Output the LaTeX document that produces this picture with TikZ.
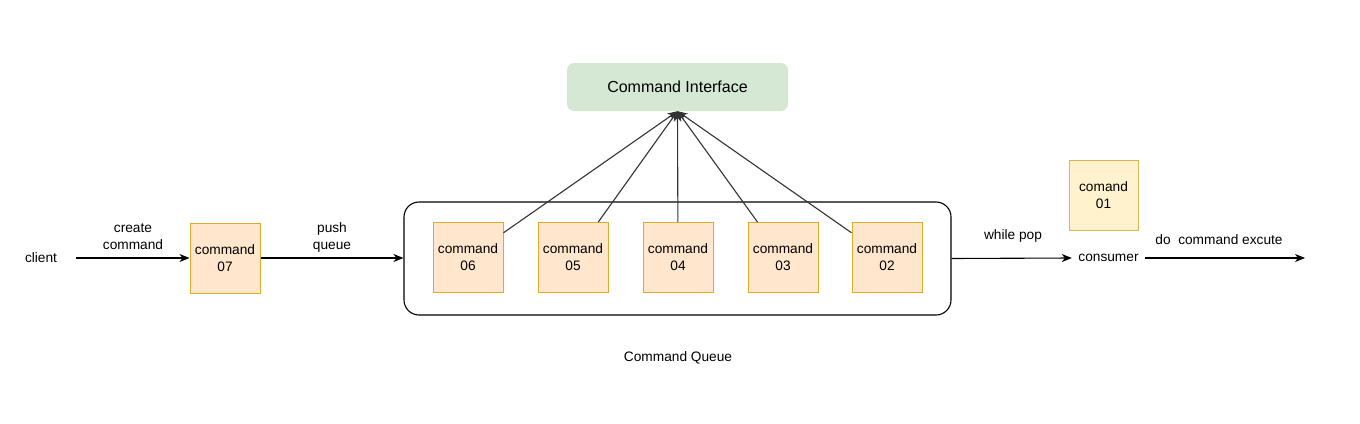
\documentclass[tikz,border=0pt]{standalone}
\usepackage{fontspec}
\setmainfont{Liberation Sans}
\usetikzlibrary{arrows.meta}
\definecolor{ofill}{HTML}{FFE6CC}
\definecolor{ostroke}{HTML}{D79B00}
\definecolor{yfill}{HTML}{FFF2CC}
\definecolor{ystroke}{HTML}{D6B656}
\definecolor{gfill}{HTML}{D5E8D4}
\definecolor{gline}{HTML}{333333}
\tikzset{
  base/.style={font=\fontsize{13.7}{17}\selectfont, align=center},
  cmdbox/.style={base, draw=ostroke!80!ofill, fill=ofill, line width=1pt, minimum width=70, minimum height=70, inner sep=0pt},
  cmdyellow/.style={base, draw=ystroke, fill=yfill, line width=1pt, minimum width=69, minimum height=70, inner sep=0pt},
  lbl/.style={base, inner sep=0pt},
  flow/.style={draw=black, line width=1.1pt, -{Stealth[length=10pt,width=8pt,inset=3pt]}},
  iface/.style={draw=gline, line width=1.1pt, -{Stealth[length=10pt,width=8pt,inset=3pt]}}
}
\begin{document}
\begin{tikzpicture}[x=1pt,y=-1pt]
\useasboundingbox (0,0) rectangle (1360,423);
% command interface
\node[base, font=\fontsize{16}{19}\selectfont, fill=gfill, rounded corners=7, minimum width=221, minimum height=48, inner sep=0pt] (ci) at (677.5,87) {Command Interface};
% queue
\node[draw=black, line width=1.1pt, rounded corners=15, minimum width=547, minimum height=113, inner sep=0pt] (queue) at (677.5,258.5) {};
\node[lbl] (qlabel) at (678,358) {Command Queue};
% command boxes
\node[cmdbox] (c07) at (225,258) {command\\07};
\node[cmdbox] (c06) at (468,257.5) {command\\06};
\node[cmdbox] (c05) at (573,257.5) {command\\05};
\node[cmdbox] (c04) at (678,257.5) {command\\04};
\node[cmdbox] (c03) at (783,257.5) {command\\03};
\node[cmdbox] (c02) at (887,257.5) {command\\02};
\node[cmdyellow] (c01) at (1103.5,195) {comand\\01};
% client / consumer
\node[base, minimum width=70, inner sep=0pt] (client) at (41,258) {client};
\node[base, minimum width=73, inner sep=0pt] (consumer) at (1108.5,258) {consumer};
\coordinate (endpt) at (1305,258);
% horizontal flow
\draw[flow] (client) -- (c07);
\draw[flow] (c07) -- (c07 -| queue.west);
\draw[flow] (queue.east) -- (consumer.west);
\draw[flow] (consumer) -- (endpt);
% labels
\node[lbl] (lcreate) at (133,237) {create\\command};
\node[lbl] (lpush) at (332,237) {push\\queue};
\node[lbl] (lpop) at (1013,236) {while pop};
\node[lbl] (ldo) at (1219,240) {do\ \ command excute};
% to interface
\foreach \n in {c06,c05,c04,c03,c02} {
  \draw[iface] (\n) -- (ci.south);
}
\end{tikzpicture}
\end{document}
